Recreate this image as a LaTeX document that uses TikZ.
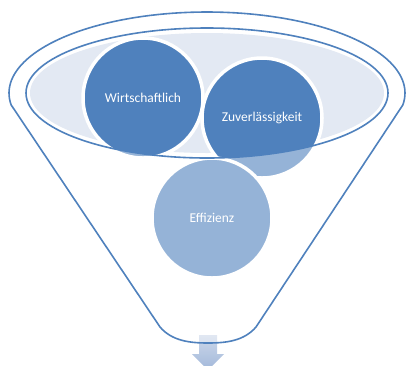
\documentclass[tikz,border=0pt]{standalone}
\usepackage{fontspec}
\setmainfont{Carlito}
\definecolor{accent}{HTML}{4F81BD}
\definecolor{paleback}{HTML}{E3E9F3}
\definecolor{arrowtop}{HTML}{CDD8EA}
\definecolor{arrowbot}{HTML}{A2B8DA}
\begin{document}
\begin{tikzpicture}[x=1pt,y=-1pt,
  bubble/.style={circle, fill=accent, draw=white, line width=3.5pt, minimum size=120pt, inner sep=0pt, text=white, font=\fontsize{13.5}{16}\selectfont},
  funnelline/.style={draw=accent, line width=1.6pt},
  funnelpath/.style={}]
\clip (0,0) rectangle (406,365);
% pale inner surface
\fill[paleback] (207,93) ellipse [x radius=177pt, y radius=60pt];
% output arrow
\shade[top color=arrowtop, bottom color=arrowbot] (199,335) -- (217,335) -- (217,354) -- (224,354) -- (208,370) -- (192,354) -- (199,354) -- cycle;
% circles
\node[bubble] (w) at (143,98) {Wirtschaftlich};
\node[bubble] (z) at (262,118) {Zuverlässigkeit};
\node[bubble] (e) at (212,218) {Effizienz};
% translucent front of the funnel
\fill[white, fill opacity=0.4, even odd rule]
  plot[domain=171.5:368.5, samples=90, variable=\t] ({207+198*cos(\t)},{93+81*sin(\t)})
  -- (256,327) .. controls (244,341) and (226,343) .. (208,343)
  .. controls (190,343) and (172,341) .. (160,327) -- cycle
  (207,93) ellipse [x radius=181pt, y radius=65pt];
% funnel outline
\draw[funnelline, line join=round]
  plot[domain=171.5:368.5, samples=90, variable=\t] ({207+198*cos(\t)},{93+81*sin(\t)})
  -- (256,327) .. controls (244,341) and (226,343) .. (208,343)
  .. controls (190,343) and (172,341) .. (160,327) -- cycle;
\draw[funnelline] (207,93) ellipse [x radius=181pt, y radius=65pt];
\end{tikzpicture}
\end{document}
